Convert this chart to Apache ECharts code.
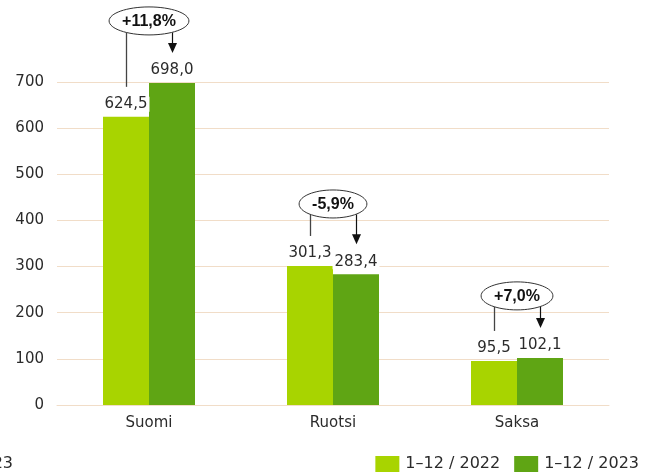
<!DOCTYPE html>
<html>
<head>
<meta charset="utf-8">
<script src="https://cdn.jsdelivr.net/npm/echarts@6/dist/echarts.min.js"></script>
<style>
html,body{margin:0;padding:0;background:#fff;}
#chart{width:654px;height:475px;}
</style>
</head>
<body>
<div id="chart"></div>
<script>
var categories = ['Suomi', 'Ruotsi', 'Saksa'];
var seriesNames = ['1–12 / 2022', '1–12 / 2023'];
var values2022 = [624.5, 301.3, 95.5];
var values2023 = [698.0, 283.4, 102.1];
var changeLabels = ['+11,8%', '-5,9%', '+7,0%'];
var yTicks = [0, 100, 200, 300, 400, 500, 600, 700];

var LIGHT = '#a8d400';
var DARK = '#5fa514';
var TEXT = '#2b2b2b';
var GRIDC = '#f1ddc8';
var REG = '"DejaVu Sans", sans-serif';
var BOLD = '"Liberation Sans", Arial, sans-serif';

function fmt(v) { return v.toFixed(1).replace('.', ','); }

var measureCtx = document.createElement('canvas').getContext('2d');
function textWidth(t, font) { measureCtx.font = font; return measureCtx.measureText(t).width; }

var annData = categories.map(function (c, i) { return [i, values2022[i], values2023[i], changeLabels[i]]; });

var chart = echarts.init(document.getElementById('chart'), null, {renderer: 'canvas'});
chart.setOption({
  animation: false,
  backgroundColor: '#fff',
  textStyle: {fontFamily: REG, color: TEXT},
  grid: {left: 57, right: 45, top: 82, bottom: 70, containLabel: false},
  legend: {
    data: seriesNames,
    right: 10, top: 451,
    itemWidth: 24, itemHeight: 16, itemGap: 14,
    icon: 'rect',
    textStyle: {fontFamily: REG, fontSize: 16, color: TEXT, padding: [0, 0, 0, 1]}
  },
  xAxis: {
    type: 'category',
    data: categories,
    axisLine: {lineStyle: {color: GRIDC, width: 1}},
    axisTick: {show: false},
    axisLabel: {fontFamily: REG, fontSize: 15, color: TEXT, margin: 11}
  },
  yAxis: {
    type: 'value',
    min: yTicks[0], max: yTicks[yTicks.length - 1], interval: 100,
    axisLine: {show: false},
    axisTick: {show: false},
    splitLine: {lineStyle: {color: GRIDC, width: 1}},
    axisLabel: {fontFamily: REG, fontSize: 15, color: TEXT, margin: 13}
  },
  series: [
    {
      name: seriesNames[0], type: 'bar', data: values2022,
      barCategoryGap: '50%', barGap: '0%',
      itemStyle: {color: LIGHT},
      label: {show: true, position: 'top', distance: 5, formatter: function (p) { return fmt(p.value); },
        fontFamily: REG, fontSize: 15, color: TEXT, backgroundColor: '#fff', padding: [0, 2]}
    },
    {
      name: seriesNames[1], type: 'bar', data: values2023,
      barCategoryGap: '50%', barGap: '0%',
      itemStyle: {color: DARK},
      label: {show: true, position: 'top', distance: 5, formatter: function (p) { return fmt(p.value); },
        fontFamily: REG, fontSize: 15, color: TEXT, backgroundColor: '#fff', padding: [0, 2]}
    },
    {
      type: 'custom',
      data: annData,
      z: 10,
      silent: true,
      encode: {x: 0, y: [1, 2]},
      renderItem: function (params, api) {
        var idx = api.value(0);
        var v1 = api.value(1), v2 = api.value(2);
        var label = annData[params.dataIndex][3];
        var cx = api.coord([idx, 0])[0];
        var band = api.size([1, 0])[0];
        var barW = band * 0.25;
        var x1 = cx - barW / 2, x2 = cx + barW / 2;
        var y1 = api.coord([idx, v1])[1];
        var y2 = api.coord([idx, v2])[1];
        var top = Math.min(y1, y2);
        var ecy = top - 62;
        var font = 'bold 16px ' + BOLD;
        var tw = textWidth(label, font);
        var rx = tw / 2 + 13, ry = 14;
        function edgeY(x) {
          var d = (x - cx) / rx;
          return ecy + ry * Math.sqrt(Math.max(0, 1 - d * d));
        }
        var x1r = Math.round(x1) + 0.5, x2r = Math.round(x2) + 0.5;
        var tipY = y2 - 30;
        return {
          type: 'group',
          children: [
            {type: 'line', shape: {x1: x1r, y1: edgeY(x1), x2: x1r, y2: y1 - 30},
              style: {stroke: '#444', lineWidth: 1.3}},
            {type: 'line', shape: {x1: x2r, y1: edgeY(x2), x2: x2r, y2: tipY - 8},
              style: {stroke: '#111', lineWidth: 1.2}},
            {type: 'polygon', shape: {points: [[x2r - 4.5, tipY - 10], [x2r + 4.5, tipY - 10], [x2r, tipY]]},
              style: {fill: '#111'}},
            {type: 'ellipse', shape: {cx: cx, cy: ecy, rx: rx, ry: ry},
              style: {fill: '#fff', stroke: '#333', lineWidth: 1}},
            {type: 'text', style: {x: cx, y: ecy + 1, text: label, font: font, fill: '#111',
              align: 'center', verticalAlign: 'middle'}}
          ]
        };
      }
    }
  ],
  graphic: [
    {type: 'text', right: 641, top: 456, style: {text: '2023', font: '16px ' + REG, fill: TEXT}}
  ]
});
</script>
</body>
</html>
